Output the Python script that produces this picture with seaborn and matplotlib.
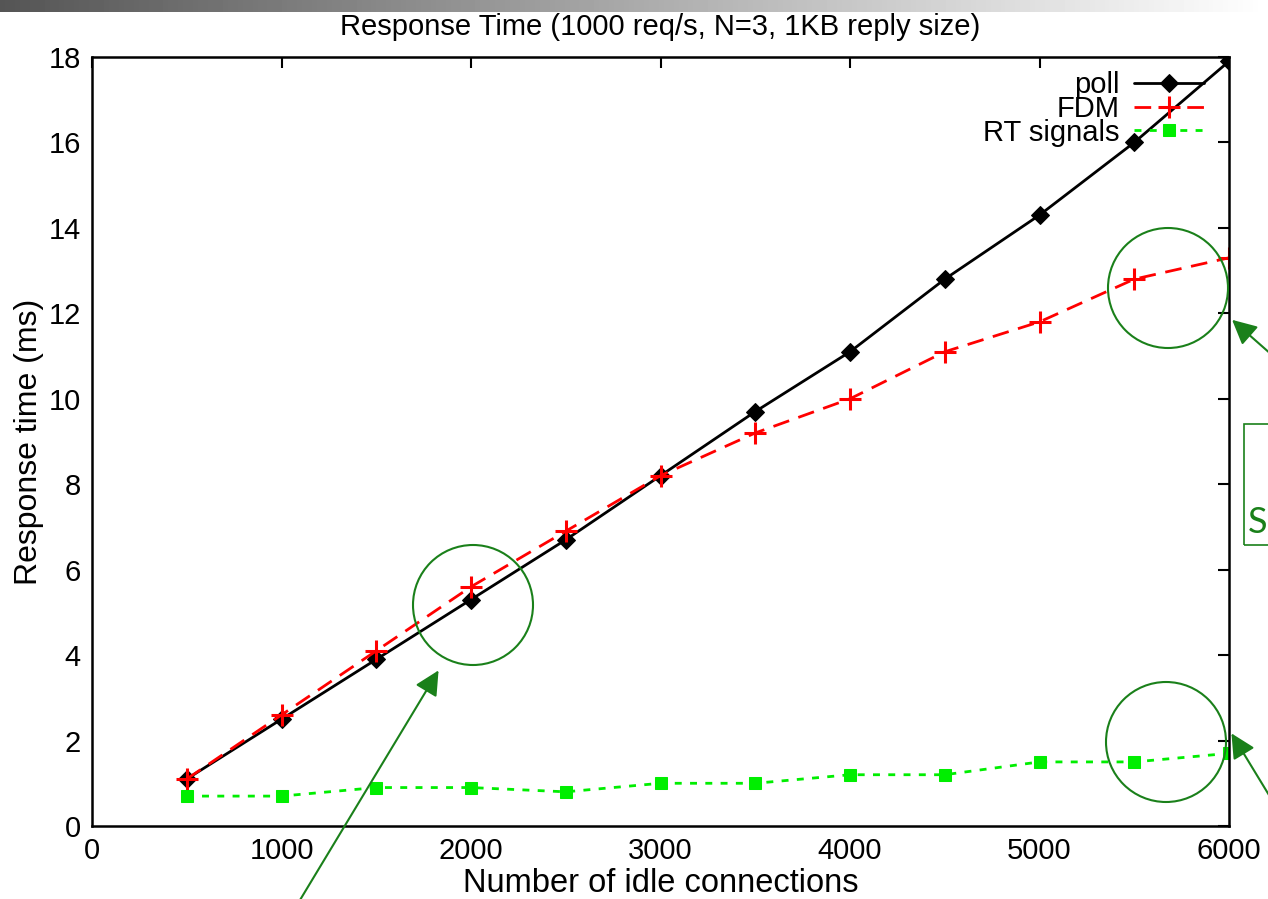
import numpy as np
import pandas as pd
import matplotlib
matplotlib.use("Agg")
import matplotlib.pyplot as plt
import seaborn as sns
from matplotlib.patches import Ellipse, FancyArrowPatch, Rectangle

connections = [500, 1000, 1500, 2000, 2500, 3000, 3500, 4000, 4500, 5000, 5500, 6000]
poll = [1.1, 2.5, 3.9, 5.3, 6.7, 8.2, 9.7, 11.1, 12.8, 14.3, 16.0, 17.9]
fdm = [1.1, 2.6, 4.1, 5.6, 6.9, 8.2, 9.2, 10.0, 11.1, 11.8, 12.8, 13.3]
rt_signals = [0.7, 0.7, 0.9, 0.9, 0.8, 1.0, 1.0, 1.2, 1.2, 1.5, 1.5, 1.7]
series_names = ["poll", "FDM", "RT signals"]
x_ticks = [0, 1000, 2000, 3000, 4000, 5000, 6000]
y_ticks = [0, 2, 4, 6, 8, 10, 12, 14, 16, 18]

sns.set_style("white")
plt.rcParams['font.family'] = ['Liberation Sans', 'DejaVu Sans']
plt.rcParams['text.color'] = 'black'
plt.rcParams['axes.labelcolor'] = 'black'

W, H = 1268, 899
fig = plt.figure(figsize=(W / 100, H / 100), dpi=100)

# top gradient bar (drawn first, behind everything)
bar_ax = fig.add_axes([0, 1 - 12 / H, 1, 12 / H], zorder=0)
grad = np.linspace(0, 1, 256)[None, :]
bar_ax.imshow(grad, aspect="auto", cmap="gray", vmin=-0.5, vmax=1.0, extent=[0, 1, 0, 1])
bar_ax.axis("off")

ax = fig.add_axes([92 / W, 1 - 826 / H, (1229 - 92) / W, (826 - 57) / H], zorder=1)

df = pd.DataFrame({"x": connections, "poll": poll, "FDM": fdm, "RT signals": rt_signals})

sns.lineplot(data=df, x="x", y="poll", ax=ax, color="black", linewidth=2,
             marker="D", markersize=9, markeredgecolor="black", label=series_names[0])
sns.lineplot(data=df, x="x", y="FDM", ax=ax, color="#ff0000", linewidth=2,
             marker="+", markersize=16, markeredgewidth=2.2, markeredgecolor="#ff0000",
             label=series_names[1])
ax.lines[-1].set_dashes([6, 3.5])
sns.lineplot(data=df, x="x", y="RT signals", ax=ax, color="#00ee00", linewidth=2,
             marker="s", markersize=8, markeredgecolor="#00ee00", label=series_names[2])
ax.lines[-1].set_dashes([2.5, 3])

ax.set_xlim(0, 6000)
ax.set_ylim(0, 18)
ax.set_xticks(x_ticks)
ax.set_yticks(y_ticks)
ax.tick_params(direction="in", top=True, right=True, length=8, width=1.5,
               labelsize=21, pad=8, colors="black")
for s in ax.spines.values():
    s.set_linewidth(1.8)
    s.set_color("black")

ax.set_xlabel("Number of idle connections", fontsize=23.5, labelpad=0)
ax.set_ylabel("Response time (ms)", fontsize=23)
ax.yaxis.set_label_coords(-0.042, 0.5)
ax.xaxis.set_label_coords(0.5, -0.055)
ax.set_title("Response Time (1000 req/s, N=3, 1KB reply size)", fontsize=21, pad=16,
             color="black")

leg = ax.legend(loc="upper right", bbox_to_anchor=(0.996, 1.008), frameon=False,
                markerfirst=False, fontsize=21, handlelength=2.4, labelspacing=-0.15,
                handletextpad=0.5, borderpad=0.2)
for t in leg.get_texts():
    t.set_color("black")

def fx(px):
    return px / W

def fy(py):
    return 1 - py / H

green = "#1a801a"
for cx, cy in [(473, 605), (1168, 288), (1166, 742)]:
    fig.add_artist(Ellipse((fx(cx), fy(cy)), 120 / W, 120 / H, fill=False,
                           edgecolor=green, linewidth=1.5, transform=fig.transFigure,
                           zorder=10))

for (x0, y0), (x1, y1) in [((297, 905), (440, 668)), ((1272, 355), (1230, 318)),
                           ((1272, 800), (1230, 731))]:
    fig.add_artist(FancyArrowPatch((fx(x0), fy(y0)), (fx(x1), fy(y1)),
                                   transform=fig.transFigure, color=green,
                                   arrowstyle="-|>,head_length=10,head_width=5",
                                   linewidth=1.5, mutation_scale=1.5, zorder=10))

fig.add_artist(Rectangle((fx(1244), fy(545)), 40 / W, 121 / H, fill=False,
                         edgecolor=green, linewidth=1.2, transform=fig.transFigure,
                         zorder=10))
fig.text(fx(1248), fy(533), "S", color=green, fontsize=26,
         family=["Lato", "DejaVu Sans"], ha="left", va="baseline", zorder=10)

fig.savefig("out.png", dpi=100)
